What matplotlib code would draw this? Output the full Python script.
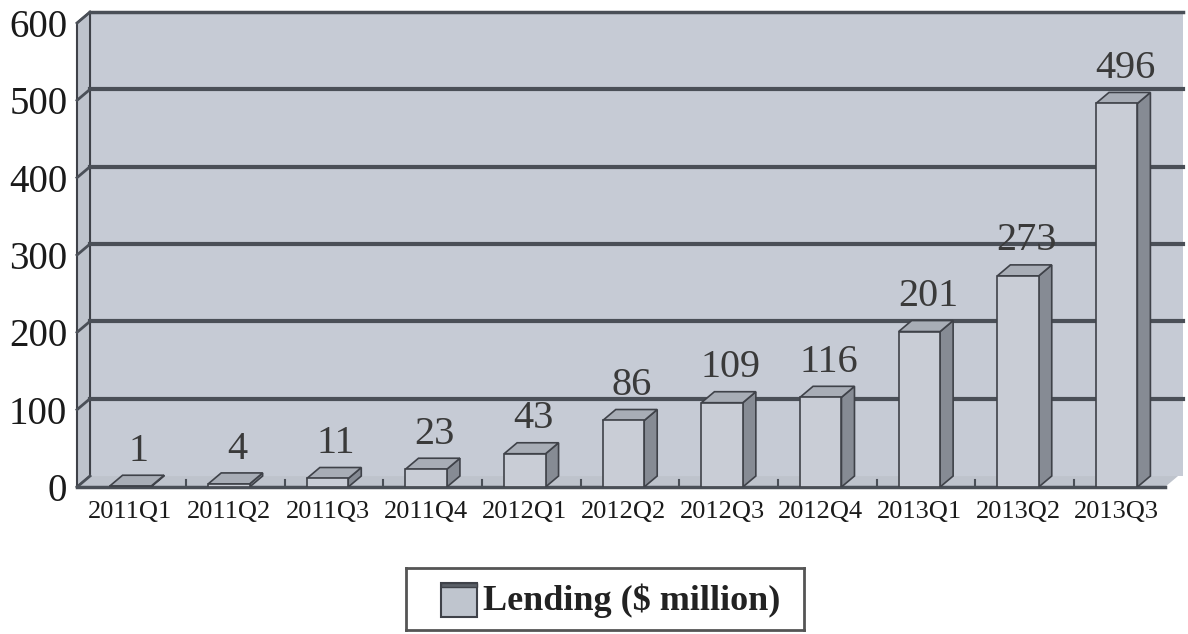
import numpy as np
import matplotlib
matplotlib.use("Agg")
import matplotlib.pyplot as plt
from matplotlib.patches import Polygon, Rectangle

quarters = ["2011Q1", "2011Q2", "2011Q3", "2011Q4", "2012Q1", "2012Q2",
            "2012Q3", "2012Q4", "2013Q1", "2013Q2", "2013Q3"]
lending = [1, 4, 11, 23, 43, 86, 109, 116, 201, 273, 496]
yticks = [0, 100, 200, 300, 400, 500, 600]

plt.rcParams['font.family'] = ['Liberation Serif', 'DejaVu Serif']

wall = "#c6cbd5"
side_wall = "#bec3cc"
grid_c = "#4a4f57"
edge = "#3f4249"
front_c = "#c9cdd6"
side_c = "#868b94"
top_c = "#a8adb6"

fig = plt.figure(figsize=(11.88, 6.34), dpi=100)
ax = fig.add_axes([77/1188, 147/634, 1088/1188, 464/634])
x0, x1 = -0.54, 10.49
ax.set_xlim(x0, x1)
ax.set_ylim(0, 600)
ax.set_facecolor("none")
for s in ax.spines.values():
    s.set_visible(False)

# depth of the 3d look, in data units
ddx, ddy = 0.132, 14.2
bw = 0.42

# back wall, left wall and floor
ax.add_patch(Polygon([(x0 + ddx, ddy), (x1 + ddx + 0.05, ddy),
                      (x1 + ddx + 0.05, 600 + ddy), (x0 + ddx, 600 + ddy)],
                     closed=True, fc=wall, ec="none", clip_on=False, zorder=0))
ax.add_patch(Polygon([(x0, 0), (x0 + ddx, ddy), (x0 + ddx, 600 + ddy), (x0, 600)],
                     closed=True, fc=side_wall, ec=edge, lw=1.5, clip_on=False, zorder=1))
ax.add_patch(Polygon([(x0, 0), (x1, 0), (x1 + ddx, ddy), (x0 + ddx, ddy)],
                     closed=True, fc=side_wall, ec="none", clip_on=False, zorder=1))
ax.plot([x0 + ddx, x1 + ddx + 0.05], [600 + ddy, 600 + ddy], color=grid_c,
        lw=2.5, clip_on=False, zorder=1)

# gridlines on back wall and their slants on left wall
for v in yticks[1:-1]:
    ax.plot([x0 + ddx, x1 + ddx + 0.05], [v + ddy, v + ddy], color=grid_c,
            lw=3, clip_on=False, zorder=1)
for v in yticks:
    ax.plot([x0, x0 + ddx], [v, v + ddy], color=grid_c, lw=2, clip_on=False, zorder=2)

# floor front edge and small separators
ax.plot([x0, x1], [0, 0], color=grid_c, lw=2.5, clip_on=False, zorder=2)
for i in range(len(quarters) - 1):
    ax.plot([i + 0.5 + ddx / 2, i + 0.5 + ddx / 2], [0, 9], color=grid_c, lw=1.5, zorder=2)

# bars with side and top faces
for i, v in enumerate(lending):
    l, r = i - bw / 2, i + bw / 2
    ax.add_patch(Polygon([(r, 0), (r + ddx, ddy), (r + ddx, v + ddy), (r, v)],
                         closed=True, fc=side_c, ec=edge, lw=1.2, zorder=3))
    ax.add_patch(Polygon([(l, v), (r, v), (r + ddx, v + ddy), (l + ddx, v + ddy)],
                         closed=True, fc=top_c, ec=edge, lw=1.2, zorder=3, clip_on=False))
    ax.add_patch(Rectangle((l, 0), bw, v, fc=front_c, ec=edge, lw=1.2, zorder=4))
    ax.text(i + ddx / 2 + 0.02, v + ddy + 7, str(v), ha="center", va="bottom",
            fontsize=29, color="#3a3a3a", zorder=5)

ax.set_yticks(yticks)
ax.set_yticklabels([str(t) for t in yticks], fontsize=28, color="#1a1a1a")
ax.set_xticks(range(len(quarters)))
ax.set_xticklabels(quarters, fontsize=19, color="#1a1a1a")
ax.tick_params(axis="y", length=0, pad=7)
ax.tick_params(axis="x", length=0, pad=10)

# legend
leg_ax = fig.add_axes([406/1188, 4/634, 398/1188, 62/634])
leg_ax.set_xlim(0, 398)
leg_ax.set_ylim(0, 62)
leg_ax.set_xticks([])
leg_ax.set_yticks([])
for s in leg_ax.spines.values():
    s.set_color("#555555")
    s.set_linewidth(2)
leg_ax.add_patch(Rectangle((35, 13), 36, 34, fc="#bfc5ce", ec=edge, lw=1.5))
leg_ax.add_patch(Rectangle((35, 43), 36, 4, fc="#5b6068", ec=edge, lw=1))
leg_ax.text(77, 29, "Lending ($ million)", fontsize=26, fontweight="bold",
            va="center", ha="left", color="#222222")

fig.savefig("out.png", dpi=100)
